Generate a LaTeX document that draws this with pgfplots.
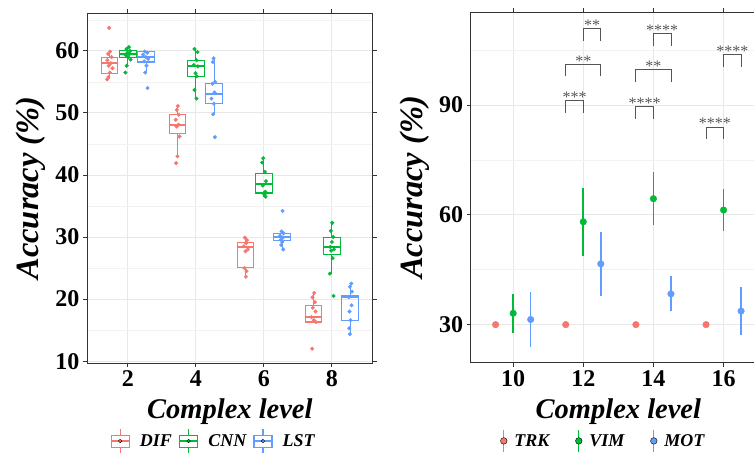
\documentclass[border=0pt]{standalone}
\usepackage{pgfplots}
\pgfplotsset{compat=1.18}
\usepgfplotslibrary{statistics}
\usepackage{fontspec}
\setmainfont{Liberation Serif}
\definecolor{cR}{HTML}{F8766D}
\definecolor{cG}{HTML}{00BA38}
\definecolor{cB}{HTML}{619CFF}
\definecolor{frame}{HTML}{333333}
\definecolor{brk}{HTML}{555555}

% box: colour, position, lower whisker, q1, median, q3, upper whisker
\newcommand{\bx}[7]{\addplot[forget plot, draw=#1, line width=1.1pt,
  boxplot prepared={draw position=#2, lower whisker=#3, lower quartile=#4,
  median=#5, upper quartile=#6, upper whisker=#7}] coordinates {};}
% significance bracket: x1, x2, leg bottom, top, label
\newcommand{\brk}[5]{\addplot[forget plot, draw=brk, line width=0.9pt, no marks]
  coordinates {(#1,#3) (#1,#4) (#2,#4) (#2,#3)};
  \node[anchor=base, inner sep=0pt, yshift=-2pt, text=brk,
  font=\fontsize{16}{16}\selectfont] at (axis cs:{(#1+#2)/2},#4) {#5};}

\pgfplotsset{
  panel/.style={
    scale only axis,
    axis line style={draw=frame, line width=0.9pt},
    tick align=outside, major tick length=4pt, minor tick length=0pt,
    tick style={draw=frame, line width=0.9pt},
    xmajorgrids, ymajorgrids, yminorgrids,
    major grid style={draw=black!9, line width=0.9pt},
    minor grid style={draw=black!5, line width=0.6pt},
    /pgf/number format/assume math mode=true,
    tick label style={font=\bfseries\fontsize{24}{24}\selectfont, text=black},
    xlabel={Complex level}, ylabel={Accuracy (\%)},
    xlabel style={font=\bfseries\itshape\fontsize{28.5}{28.5}\selectfont},
    xlabel shift=5pt,
    ylabel style={font=\bfseries\itshape\fontsize{32.5}{32.5}\selectfont},
    ylabel shift=3pt,
    legend cell align=left,
  },
  boxkey/.style={legend image code/.code={
    \draw[draw=#1, line width=1.1pt] (9pt,-12pt) -- (9pt,-6pt) (9pt,6pt) -- (9pt,12pt);
    \draw[draw=#1, line width=1.1pt] (0pt,-6pt) rectangle (18pt,6pt);
    \draw[draw=#1, line width=1.4pt] (0pt,0pt) -- (18pt,0pt);
    \fill[fill=#1] (9pt,0pt) circle (1.8pt);}},
  ptkey/.style={legend image code/.code={
    \draw[draw=#1, line width=1.2pt] (4pt,-11pt) -- (4pt,11pt);
    \fill[fill=#1] (4pt,0pt) circle (3.3pt);}},
}

\begin{document}
\begin{tikzpicture}[x=1pt,y=1pt]
\begin{axis}[panel,
  at={(87pt,93pt)}, anchor=south west,
  width=285.7pt, height=350pt,
  xmin=0.8, xmax=9.2, ymin=9.7, ymax=66.1,
  xtick={2,4,6,8}, ytick={10,20,30,40,50,60},
  minor ytick={15,25,35,45,55,65},
  boxplot/draw direction=y, boxplot/box extend=0.49,
  boxplot/whisker extend=0,
  boxplot/every median/.style={line width=1.9pt},
  legend style={at={(0.443,-0.223)}, anchor=center, draw=none, fill=none,
    legend columns=-1, font=\bfseries\itshape\fontsize{18}{18}\selectfont,
    /tikz/every odd column/.append style={column sep=8pt},
    /tikz/every even column/.append style={column sep=5pt}},
]
\addlegendimage{boxkey=cR}\addlegendentry{DIF}
\addlegendimage{boxkey=cG}\addlegendentry{CNN}
\addlegendimage{boxkey=cB}\addlegendentry{LST}

\bx{cR}{1.46}{55.4}{56.4}{58.0}{59.0}{59.9}
\bx{cG}{2.00}{57.6}{59.0}{59.5}{60.05}{60.6}
\bx{cB}{2.54}{56.5}{58.2}{59.0}{59.9}{60.0}
\bx{cR}{3.46}{43.0}{46.7}{48.1}{49.7}{51.1}
\bx{cG}{4.00}{52.3}{55.9}{57.5}{58.5}{60.3}
\bx{cB}{4.54}{49.8}{51.5}{53.1}{54.7}{58.8}
\bx{cR}{5.46}{23.6}{25.05}{28.4}{29.1}{29.9}
\bx{cG}{6.00}{36.5}{37.1}{38.5}{40.2}{42.7}
\bx{cB}{6.54}{28.0}{29.4}{29.95}{30.5}{30.9}
\bx{cR}{7.46}{16.3}{16.3}{17.1}{19.0}{21.0}
\bx{cG}{8.00}{24.1}{27.2}{28.4}{29.95}{32.3}
\bx{cB}{8.54}{14.35}{16.6}{20.3}{20.5}{22.5}

\addplot[forget plot, only marks, mark=*, mark size=1.8pt, color=cR] coordinates {
 (1.45,63.7) (1.48,59.9) (1.42,59.5) (1.52,59.0) (1.40,58.5) (1.50,58.0)
 (1.44,57.6) (1.55,57.2) (1.47,56.5) (1.43,55.8) (1.39,55.4)
 (3.47,51.1) (3.44,50.5) (3.50,49.7) (3.41,48.9) (3.49,48.1) (3.43,47.8)
 (3.52,46.2) (3.46,43.0) (3.42,41.9)
 (5.44,29.9) (5.50,29.5) (5.48,29.0) (5.41,28.5) (5.53,28.0) (5.46,27.7)
 (5.43,25.0) (5.49,24.5) (5.47,23.6)
 (7.48,21.0) (7.43,20.3) (7.50,19.5) (7.44,18.6) (7.52,18.0) (7.40,17.1)
 (7.47,16.6) (7.53,16.3) (7.42,12.0)};
\addplot[forget plot, only marks, mark=*, mark size=1.8pt, color=cG] coordinates {
 (2.03,60.6) (1.96,60.3) (2.07,60.0) (1.99,59.7) (2.05,59.5) (1.94,59.3)
 (2.01,59.0) (2.08,58.6) (1.97,57.6) (1.93,56.5)
 (3.96,60.3) (4.05,59.8) (4.02,58.5) (3.94,57.7) (4.06,57.5) (3.99,56.4)
 (4.03,55.9) (3.96,53.7) (4.02,52.3)
 (5.98,42.7) (5.95,42.0) (6.03,40.5) (6.06,39.0) (5.97,38.3) (6.04,37.3)
 (6.00,37.0) (6.02,36.8) (6.05,36.5)
 (8.01,32.3) (7.97,31.0) (8.04,30.0) (8.00,29.2) (7.95,28.4) (8.06,28.0)
 (7.98,27.8) (8.02,26.6) (7.94,24.1) (8.05,20.5)};
\addplot[forget plot, only marks, mark=*, mark size=1.8pt, color=cB] coordinates {
 (2.50,59.9) (2.57,59.7) (2.45,59.4) (2.53,59.0) (2.60,58.7) (2.48,58.3)
 (2.55,57.6) (2.51,56.5) (2.58,54.0)
 (4.52,58.8) (4.50,58.2) (4.57,55.0) (4.49,54.7) (4.55,53.3) (4.46,52.3)
 (4.53,51.5) (4.51,49.8) (4.56,46.1)
 (6.55,34.2) (6.52,30.9) (6.58,30.6) (6.48,30.2) (6.56,29.9) (6.50,29.6)
 (6.54,29.2) (6.51,28.7) (6.57,28.0)
 (8.57,22.5) (8.53,22.0) (8.59,21.2) (8.50,20.3) (8.58,19.0) (8.52,18.0)
 (8.55,16.6) (8.51,15.3) (8.53,14.35)};
\end{axis}

\begin{axis}[panel,
  at={(470.7pt,93.3pt)}, anchor=south west,
  width=295.3pt, height=350.7pt,
  xmin=8.79, xmax=17.21, ymin=19.6, ymax=115.4,
  xtick={10,12,14,16}, ytick={30,60,90},
  minor ytick={45,75,105},
  legend style={at={(0.449,-0.223)}, anchor=center, draw=none, fill=none,
    legend columns=-1, font=\bfseries\itshape\fontsize{18}{18}\selectfont,
    /tikz/every odd column/.append style={column sep=5pt},
    /tikz/every even column/.append style={column sep=24pt}},
]
\addlegendimage{ptkey=cR}\addlegendentry{TRK}
\addlegendimage{ptkey=cG}\addlegendentry{VIM}
\addlegendimage{ptkey=cB}\addlegendentry{MOT}

\addplot[forget plot, only marks, mark=*, mark size=3.3pt, color=cR] coordinates {
 (9.5,30) (11.5,30) (13.5,30) (15.5,30)};
\addplot[forget plot, only marks, mark=*, mark size=3.3pt, color=cG,
  error bars/.cd, y dir=both, y explicit, error mark=none,
  error bar style={line width=1.6pt, draw=cG}] coordinates {
 (10,33.1) +- (0,5.25)
 (12,58.1) +- (0,9.25)
 (14,64.4) +- (0,7.2)
 (16,61.3) +- (0,5.65)};
\addplot[forget plot, only marks, mark=*, mark size=3.3pt, color=cB,
  error bars/.cd, y dir=both, y explicit, error mark=none,
  error bar style={line width=1.6pt, draw=cB}] coordinates {
 (10.5,31.4) +- (0,7.55)
 (12.5,46.6) +- (0,8.8)
 (14.5,38.4) +- (0,4.8)
 (16.5,33.7) +- (0,6.55)};

\brk{11.5}{12}{87.8}{91.3}{***}
\brk{11.5}{12.5}{97.8}{101.1}{**}
\brk{12}{12.5}{107.6}{110.8}{**}
\brk{13.5}{14}{86.3}{89.7}{****}
\brk{13.5}{14.5}{96.3}{99.6}{**}
\brk{14}{14.5}{106.1}{109.5}{****}
\brk{15.5}{16}{80.8}{84.0}{****}
\brk{16}{16.5}{100.3}{103.8}{****}
\end{axis}
\pgfresetboundingbox
\path[use as bounding box] (0,0) rectangle (754,456);
\end{tikzpicture}
\end{document}
